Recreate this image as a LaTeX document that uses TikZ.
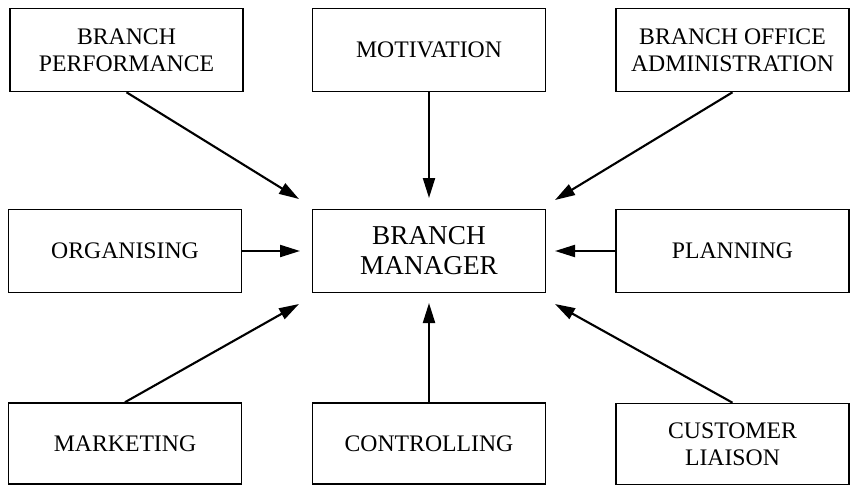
\documentclass[tikz,border=0pt]{standalone}
\usepackage{fontspec}
\setmainfont{Liberation Serif}
\usetikzlibrary{arrows.meta, positioning}

\tikzset{
    task/.style={draw, line width=0.9pt, minimum width=4.66cm, minimum height=1.66cm,
        align=center, font=\fontsize{13.5}{15.5}\selectfont},
    feed/.style={line width=1.2pt, -{Triangle[length=0.4cm, width=0.24cm]}}
}

\begin{document}
\begin{tikzpicture}
    \useasboundingbox (0,0) rectangle (17,-9.7);

    % Central node
    \node[task, font=\fontsize{15.5}{17}\selectfont] (mgr) at (8.58,-5.02) {BRANCH\\MANAGER};

    % Top row
    \node[task] (perf) at (2.53,-1.0) {BRANCH\\PERFORMANCE};
    \node[task] (motiv) at (8.58,-1.0) {MOTIVATION};
    \node[task] (admin) at (14.65,-1.0) {BRANCH OFFICE\\ADMINISTRATION};

    % Middle row
    \node[task] (org) at (2.5,-5.02) {ORGANISING};
    \node[task] (plan) at (14.65,-5.02) {PLANNING};

    % Bottom row
    \node[task, minimum height=1.62cm] (mkt) at (2.5,-8.87) {MARKETING};
    \node[task, minimum height=1.62cm] (ctrl) at (8.58,-8.87) {CONTROLLING};
    \node[task, minimum height=1.62cm] (cust) at (14.65,-8.88) {CUSTOMER\\LIAISON};

    % Arrow tips around the manager
    \coordinate (tNW) at (5.98,-3.98);
    \coordinate (tN) at (8.58,-3.96);
    \coordinate (tNE) at (11.1,-4.0);
    \coordinate (tW) at (6.0,-5.02);
    \coordinate (tE) at (11.1,-5.02);
    \coordinate (tSW) at (5.98,-6.08);
    \coordinate (tS) at (8.58,-6.06);
    \coordinate (tSE) at (11.1,-6.08);

    % Arrows
    \draw[feed] (perf.south) -- (tNW);
    \draw[feed] (motiv.south) -- (tN);
    \draw[feed] (admin.south) -- (tNE);
    \draw[feed] (org.east) -- (tW);
    \draw[feed] (plan.west) -- (tE);
    \draw[feed] (mkt.north) -- (tSW);
    \draw[feed] (ctrl.north) -- (tS);
    \draw[feed] (cust.north) -- (tSE);
\end{tikzpicture}
\end{document}
